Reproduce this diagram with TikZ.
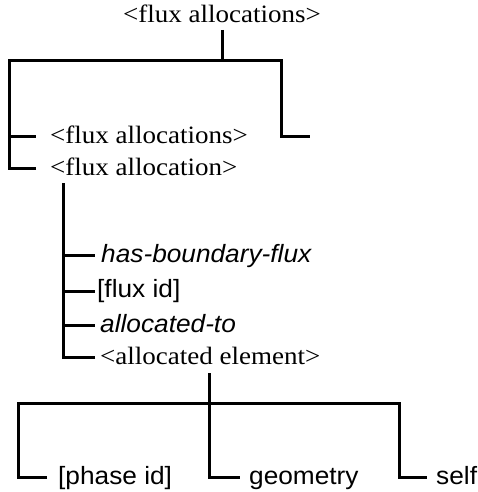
\documentclass[tikz,border=0pt]{standalone}
\usepackage{fontspec}
\setmainfont[FakeStretch=1.08]{Liberation Serif}
\setsansfont[FakeStretch=1.05]{Liberation Sans}
\begin{document}
\begin{tikzpicture}[x=1pt,y=-1pt,
  lbl/.style={inner sep=0pt, anchor=base west},
  serif/.style={lbl, font=\rmfamily\fontsize{25}{30}\selectfont},
  sans/.style={lbl, font=\sffamily\fontsize{25}{30}\selectfont},
  sansit/.style={lbl, font=\sffamily\itshape\fontsize{25}{30}\selectfont},
  tree/.style={draw=black, line width=3pt, line cap=butt, line join=miter}]
\useasboundingbox (0,0) rectangle (477,492);
% labels
\node[serif, anchor=base] (top) at (222,23) {<flux allocations>};
\node[serif] (fas) at (50,143) {<flux allocations>};
\node[serif] (fa) at (50,175) {<flux allocation>};
\node[sansit] (hbf) at (101,262) {has-boundary-flux};
\node[sans] (fid) at (97,297) {[flux id]};
\node[sansit] (alt) at (100,332) {allocated-to};
\node[serif] (ae) at (100,364) {<allocated element>};
\node[sans] (ph) at (58,484) {[phase id]};
\node[sans] (geo) at (249,484) {geometry};
\node[sans] (self) at (436,484) {self};
% junction coordinates
\coordinate (t0) at (222,30);
\coordinate (tj) at (222,61);
\coordinate (tl) at (9,61);
\coordinate (tr) at (281,61);
\coordinate (b1) at (36,136);
\coordinate (b2) at (36,168);
\coordinate (b3) at (310,136);
\coordinate (m0) at (63,183);
\coordinate (mh) at (95,255);
\coordinate (mf) at (95,291);
\coordinate (ma) at (95,325);
\coordinate (me) at (95,357);
\coordinate (a0) at (209,373);
\coordinate (aj) at (209,403);
\coordinate (al) at (18,403);
\coordinate (ar) at (399,403);
\coordinate (p1) at (47,477);
\coordinate (p2) at (240,477);
\coordinate (p3) at (427,477);
% connectors
\draw[tree] (t0) -- (tj);
\draw[tree] (b2) -| (tl) -- (tr) |- (b3);
\draw[tree] (tl |- b1) -- (b1);
\draw[tree] (me) -| (m0);
\draw[tree] (m0 |- mh) -- (mh);
\draw[tree] (m0 |- mf) -- (mf);
\draw[tree] (m0 |- ma) -- (ma);
\draw[tree] (a0) -- (aj);
\draw[tree] (p1) -| (al) -- (ar) |- (p3);
\draw[tree] (aj) |- (p2);
\end{tikzpicture}
\end{document}
